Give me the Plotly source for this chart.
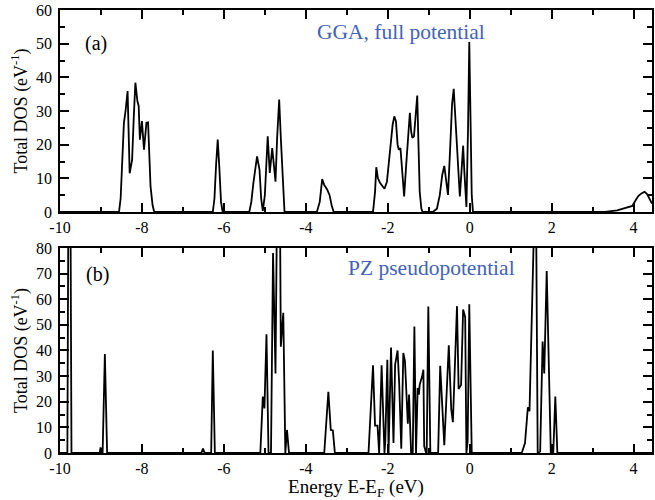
import plotly.graph_objects as go

# Panel (a): GGA, full potential
energy_a = [-10, -8.56, -8.52, -8.48, -8.44, -8.40, -8.35, -8.30, -8.24, -8.20, -8.16, -8.11, -8.08,
            -8.05, -8.00, -7.95, -7.89, -7.85, -7.82, -7.79, -7.74, -7.70,
            -6.27, -6.23, -6.19, -6.15, -6.11, -6.07, -6.03,
            -5.38, -5.33, -5.28, -5.19, -5.13, -5.09, -5.05, -5.00, -4.96, -4.93, -4.88, -4.82, -4.78,
            -4.74, -4.70, -4.65, -4.61, -4.56, -4.52,
            -3.73, -3.66, -3.60, -3.55, -3.48, -3.42, -3.37, -3.32,
            -2.36, -2.31, -2.28, -2.24, -2.19, -2.12, -2.08, -2.02, -1.95, -1.88, -1.84, -1.80, -1.76,
            -1.73, -1.69, -1.64, -1.60, -1.55, -1.51, -1.46, -1.43, -1.40, -1.36, -1.32, -1.28, -1.25,
            -1.22, -1.18, -1.15,
            -0.90, -0.80, -0.73, -0.67, -0.62, -0.57, -0.53, -0.48, -0.43, -0.39, -0.35, -0.30, -0.24,
            -0.20, -0.16, -0.13, -0.08, -0.04, -0.01, 0.02, 0.05, 0.08,
            3.30, 3.60, 3.84, 3.97, 4.05, 4.12, 4.20, 4.27, 4.33, 4.40, 4.45]
dos_a = [0, 0, 4, 14, 26.5, 30, 35.9, 11.5, 15.5, 28, 38.4, 32.9, 31.5,
         21.5, 27, 18.5, 26.5, 26.6, 18, 7.6, 2, 0,
         0, 4, 14, 21.5, 13, 3, 0,
         0, 3, 8.6, 16.5, 12.5, 4, 0.3, 5, 18, 22.5, 11.6, 19, 14,
         9, 22, 33.4, 22, 7, 0,
         0, 3, 9.8, 8, 6.7, 5, 2, 0,
         0, 6, 13.3, 10, 8.7, 7.5, 6.9, 9, 18, 26, 28.4, 27, 20,
         18.5, 19, 10, 4.6, 14, 22, 29.5, 24, 22, 22.5, 28, 34.6, 20,
         6, 1, 0,
         0, 1, 5, 11, 13.7, 9, 5.1, 18, 32, 36.6, 28, 14, 4.6,
         12, 19.7, 12, 1.5, 25, 50.5, 28, 5, 0,
         0, 0.5, 1.2, 1.8, 3.5, 4.8, 5.6, 6.0, 5.3, 3.7, 2.5]

# Panel (b): PZ pseudopotential
energy_b = [-10, -9.82, -9.79, -9.75, -9.72,
            -9.03, -9.01, -8.99, -8.96, -8.905, -8.85,
            -6.55, -6.51, -6.47,
            -6.31, -6.27, -6.22,
            -5.11, -5.05, -5.01, -4.96, -4.91, -4.85, -4.80, -4.74, -4.69, -4.64, -4.61, -4.55, -4.50,
            -4.46, -4.41,
            -3.55, -3.45, -3.39, -3.34, -3.29,
            -2.47, -2.36, -2.31, -2.25, -2.21, -2.15, -2.08, -2.06, -2.01, -1.98, -1.92, -1.86, -1.82,
            -1.76, -1.72, -1.67, -1.62, -1.58, -1.54, -1.51, -1.48, -1.43, -1.39, -1.35, -1.31, -1.27,
            -1.24, -1.22, -1.16, -1.13, -1.11, -1.05, -1.01, -0.96, -0.77, -0.72, -0.62, -0.51, -0.45,
            -0.41, -0.31, -0.27, -0.21, -0.16, -0.11, -0.08, -0.05, -0.01, 0.05,
            1.27, 1.35, 1.42, 1.46, 1.58, 1.62, 1.66, 1.72, 1.78, 1.82, 1.88, 1.98, 2.04, 2.09, 2.14,
            4.45]
dos_b = [0, 0, 120, 120, 0,
         0, 2.2, 0, 0, 38.6, 0,
         0, 1.7, 0,
         0, 40, 0,
         0, 22, 17.4, 46.3, 0, 0, 78, 31, 120, 120, 41.5, 54.7, 0,
         9, 0,
         0, 23.9, 9, 8.8, 0,
         0, 34.2, 10.7, 10.7, 0, 34.2, 0, 4.5, 36.4, 0, 41.2, 3.9, 34.5,
         40, 26.7, 1.7, 39, 35.8, 22.8, 11.4, 22.8, 0, 0, 49.4, 0, 25.4,
         22.8, 26.7, 29.9, 32.5, 2.6, -0.7, 57.2, 0, 0, 34, 3, 42, 17,
         12, 57.3, 25, 26.5, 56, 53, 0, 4.5, 58, 0,
         0, 3.9, 17.8, 16.3, 95, 95, 0, 0.6, 43.5, 31, 71, 0, 0, 22, 0,
         0]

x_major = [-10, -8, -6, -4, -2, 0, 2, 4]
y_major_a = [0, 10, 20, 30, 40, 50, 60]
y_major_b = [0, 10, 20, 30, 40, 50, 60, 70, 80]

x_range = [-10, 4.45]
y_range_a = [0, 60]
y_range_b = [0, 80]

FONT = "Liberation Serif"
BLUE = "#4263b5"

fig = go.Figure()
fig.add_trace(go.Scatter(x=energy_a, y=dos_a, mode="lines",
                         line=dict(color="black", width=1.8), xaxis="x", yaxis="y",
                         showlegend=False, hoverinfo="skip"))
fig.add_trace(go.Scatter(x=energy_b, y=dos_b, mode="lines",
                         line=dict(color="black", width=1.8), xaxis="x2", yaxis="y2",
                         showlegend=False, hoverinfo="skip"))

minor_x = dict(dtick=1, tick0=0, ticks="inside", ticklen=5, tickwidth=1.5, tickcolor="black",
               showgrid=False)
minor_y = dict(dtick=5, tick0=0, ticks="inside", ticklen=5, tickwidth=1.5, tickcolor="black",
               showgrid=False)

common_x = dict(range=x_range, tickmode="array", tickvals=x_major,
                ticktext=[str(v) for v in x_major],
                ticks="inside", ticklen=9, tickwidth=1.5, tickcolor="black", minor=minor_x,
                showline=True, linecolor="black", linewidth=1.5, mirror="allticks",
                showgrid=False, zeroline=False,
                tickfont=dict(family=FONT, size=16, color="black"))
common_y = dict(ticks="inside", ticklen=9, tickwidth=1.5, tickcolor="black", minor=minor_y,
                showline=True, linecolor="black", linewidth=1.5, mirror="allticks",
                showgrid=False, zeroline=False, ticklabelstandoff=3,
                tickfont=dict(family=FONT, size=16, color="black"))

fig.update_layout(
    width=655, height=500,
    margin=dict(l=60, r=1, t=10, b=47),
    paper_bgcolor="white", plot_bgcolor="white",
    font=dict(family=FONT, color="black"),
    xaxis=dict(common_x, domain=[0, 1], anchor="y"),
    yaxis=dict(common_y, domain=[0.544, 1.0], anchor="x", range=y_range_a,
               tickmode="array", tickvals=y_major_a,
               title=dict(text="Total DOS (eV<sup>-1</sup>)", font=dict(family=FONT, size=18),
                          standoff=4)),
    xaxis2=dict(common_x, domain=[0, 1], anchor="y2",
                title=dict(text="Energy E-E<sub>F</sub> (eV)", font=dict(family=FONT, size=19),
                           standoff=8)),
    yaxis2=dict(common_y, domain=[0, 0.4628], anchor="x2", range=y_range_b,
                tickmode="array", tickvals=y_major_b,
                title=dict(text="Total DOS (eV<sup>-1</sup>)", font=dict(family=FONT, size=18),
                           standoff=4)),
)

fig.add_annotation(x=-9.12, y=50.1, xref="x", yref="y", text="(a)", showarrow=False,
                   font=dict(family=FONT, size=20, color="black"))
fig.add_annotation(x=-1.68, y=53.4, xref="x", yref="y", text="GGA, full potential", showarrow=False,
                   font=dict(family=FONT, size=21.5, color=BLUE))
fig.add_annotation(x=-9.09, y=69.8, xref="x2", yref="y2", text="(b)", showarrow=False,
                   font=dict(family=FONT, size=20, color="black"))
fig.add_annotation(x=-0.925, y=72.2, xref="x2", yref="y2", text="PZ pseudopotential", showarrow=False,
                   font=dict(family=FONT, size=21.5, color=BLUE))

fig.write_html("out.html")
